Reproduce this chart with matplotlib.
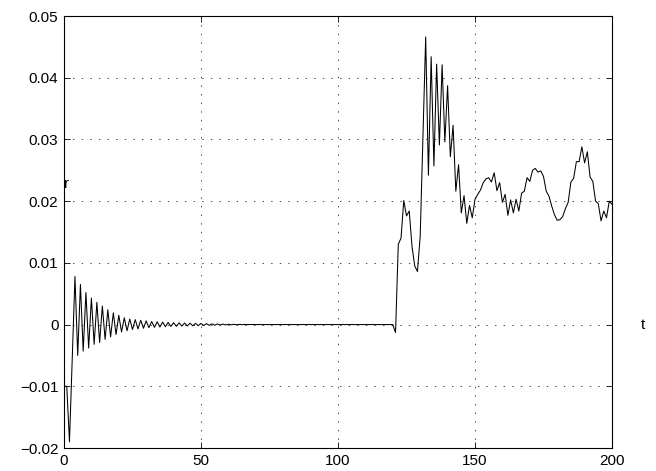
import numpy as np
import matplotlib
matplotlib.use("Agg")
import matplotlib.pyplot as plt

plt.rcParams['font.family'] = ['Liberation Sans', 'DejaVu Sans']
plt.rcParams['lines.scale_dashes'] = False

# r(t), t = 0..69 (decaying transient)
r_transient = [
    -0.0100, -0.0100, -0.0190, -0.0055, 0.0078, -0.0050, 0.0065, -0.0043, 0.0052, -0.0038,
    0.0043, -0.0032, 0.0036, -0.0029, 0.0030, -0.0024, 0.0024, -0.0020, 0.0019, -0.0016,
    0.0015, -0.0012, 0.0011, -0.0010, 0.0009, -0.0008, 0.0008, -0.0007, 0.0007, -0.0006,
    0.0006, -0.0005, 0.0005, -0.00045, 0.00045, -0.0004, 0.0004, -0.00035, 0.00035, -0.0003,
    0.0003, -0.00028, 0.00028, -0.00025, 0.00025, -0.00022, 0.00022, -0.0002, 0.0002, -0.00018,
    0.00018, -0.00015, 0.00015, -0.00012, 0.00012, -0.0001, 0.0001, -0.00008, 0.00008, -0.00006,
    0.00006, -0.00004, 0.00004, -0.00003, 0.00003, -0.00002, 0.00002, -0.00001, 0.00001, 0.0,
]
# r(t), t = 70..120 (quiet)
r_quiet = [
    0.0, 0.0, 0.0, 0.0, 0.0, 0.0, 0.0, 0.0, 0.0, 0.0,
    0.0, 0.0, 0.0, 0.0, 0.0, 0.0, 0.0, 0.0, 0.0, 0.0,
    0.0, 0.0, 0.0, 0.0, 0.0, 0.0, 0.0, 0.0, 0.0, 0.0,
    0.0, 0.0, 0.0, 0.0, 0.0, 0.0, 0.0, 0.0, 0.0, 0.0,
    0.0, 0.0, 0.0, 0.0, 0.0, 0.0, 0.0, 0.0, 0.0, 0.0,
    0.0,
]
# r(t), t = 121..200 (disturbed)
r_disturbed = [
    -0.0013, 0.0130, 0.0140, 0.0201, 0.0176, 0.0184, 0.0127, 0.0095, 0.0086, 0.0143,
    0.0305, 0.0466, 0.0242, 0.0434, 0.0257, 0.0422, 0.0291, 0.0421, 0.0296, 0.0387,
    0.0272, 0.0323, 0.0216, 0.0259, 0.0181, 0.0209, 0.0164, 0.0193, 0.0173, 0.0203,
    0.0211, 0.0218, 0.0230, 0.0236, 0.0238, 0.0231, 0.0246, 0.0217, 0.0230, 0.0198,
    0.0211, 0.0177, 0.0202, 0.0181, 0.0203, 0.0184, 0.0213, 0.0216, 0.0238, 0.0232,
    0.0250, 0.0253, 0.0247, 0.0249, 0.0240, 0.0216, 0.0208, 0.0192, 0.0178, 0.0169,
    0.0170, 0.0175, 0.0188, 0.0198, 0.0231, 0.0237, 0.0264, 0.0264, 0.0288, 0.0262,
    0.0280, 0.0239, 0.0232, 0.0200, 0.0196, 0.0168, 0.0184, 0.0173, 0.0200, 0.0195,
]

x_ticks = [0, 50, 100, 150, 200]
x_tick_labels = ['0', '50', '100', '150', '200']
y_ticks = [-0.02, -0.01, 0.0, 0.01, 0.02, 0.03, 0.04, 0.05]
y_tick_labels = ['\u22120.02', '\u22120.01', '0', '0.01', '0.02', '0.03', '0.04', '0.05']

r = np.array(r_transient + r_quiet + r_disturbed)
t = np.arange(len(r))

fig = plt.figure(figsize=(6.56, 4.71), dpi=100)
ax = fig.add_axes([64/656, 23/471, 548/656, 432/471])

ax.plot(t, r, color='black', linewidth=0.75)

ax.set_xlim(0, 200)
ax.set_ylim(-0.02, 0.05)
ax.set_xticks(x_ticks)
ax.set_xticklabels(x_tick_labels)
ax.set_yticks(y_ticks)
ax.set_yticklabels(y_tick_labels)

ax.tick_params(direction='in', length=4.5, width=0.6, top=True, right=True,
               labelsize=11, colors='black')
ax.tick_params(axis='y', pad=4)
ax.tick_params(axis='x', pad=4.5)
for s in ax.spines.values():
    s.set_linewidth(0.8)
    s.set_color('black')

ax.grid(True, color='black', linestyle=(0, (1, 5.2)), linewidth=0.5)

ax.text(0, 0.0222, 'r', fontsize=11, ha='left', va='baseline')
ax.text(210.5, 0, 't', fontsize=11, ha='left', va='center', clip_on=False)

fig.savefig('out.png', dpi=100)
